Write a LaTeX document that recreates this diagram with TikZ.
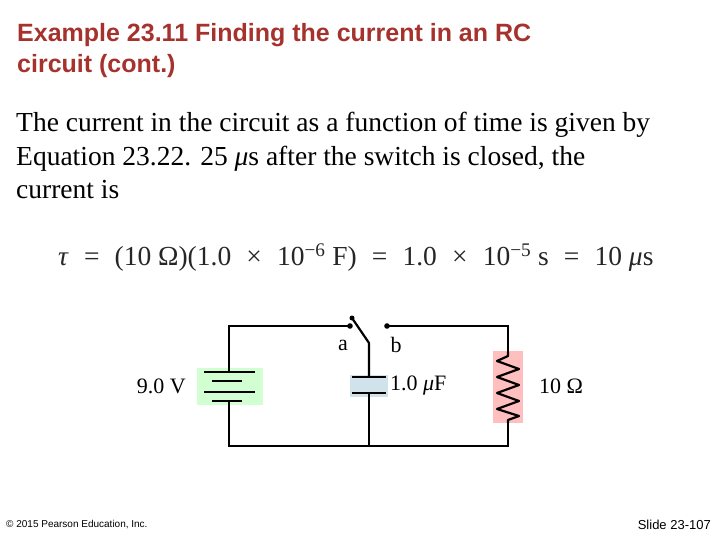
\documentclass[tikz,border=0pt]{standalone}
\usepackage{fontspec}
\setmainfont{Liberation Serif}
\newfontfamily\arial{Liberation Sans}
\newcommand\qs{\hspace{0.55em}}
\begin{document}
\begin{tikzpicture}[x=1pt,y=-1pt,
  wire/.style={line width=2.2pt},
  txt/.style={inner sep=0pt,anchor=west,font=\fontsize{22}{24}\selectfont}]
\definecolor{titlered}{RGB}{165,50,45}
\useasboundingbox (0,0) rectangle (720,540);
\node[inner sep=0pt,anchor=north west,align=left,text=titlered,font=\arial\bfseries\fontsize{25}{31}\selectfont] (title) at (17,23) {Example 23.11 Finding the current in an RC\\circuit (cont.)};
\node[inner sep=0pt,anchor=north west,align=left,font=\fontsize{27.5}{33.5}\selectfont] (body) at (16,112) {The current in the circuit as a function of time is given by\\Equation 23.22. 25 \textit{μ}s after the switch is closed, the\\current is};
\node[inner sep=0pt,anchor=west,font=\fontsize{27.5}{30}\selectfont,text=black!85] (eq) at (58,258) {\textit{τ}\qs=\qs(10 Ω)(1.0\qs×\qs10\textsuperscript{−6} F)\qs=\qs1.0\qs×\qs10\textsuperscript{−5} s\qs=\qs10 \textit{μ}s};
% component boxes
\fill[fill=green!18] (197,368) rectangle (263,405);
\fill[fill=cyan!15!teal!20] (350,375) rectangle (388,397);
\fill[fill=red!25] (493,351) rectangle (523,423);
% wires
\coordinate (tl) at (229,326); \coordinate (bl) at (229,446);
\coordinate (br) at (508,446); \coordinate (tr) at (508,326);
\coordinate (a) at (350,326); \coordinate (b) at (387,326);
\coordinate (pivot) at (369,343); \coordinate (tip) at (352,318);
\coordinate (bm) at (369,446);
\draw[wire] (229,372) -- (tl) -- (a);
\draw[wire] (229,401) -- (bl) -- (br) -- (508,420);
\draw[wire] (b) -- (tr) -- (508,352);
\draw[wire] (tip) -- (pivot) -- (369,377);
\draw[wire] (369,393) -- (bm);
\fill (a) circle (2.8); \fill (b) circle (2.8); \fill (tip) circle (2.5);
% battery
\draw[line width=2.2pt] (204,372) -- (255,372) (212,381) -- (242,381) (204,392) -- (255,392) (212,401) -- (242,401);
% capacitor
\draw[line width=2.4pt] (352,377) -- (386,377) (352,393) -- (386,393);
% resistor
\draw[wire,line join=round] (508,352) -- (508,356) -- (497,361) -- (519,369) -- (497,377) -- (519,385) -- (497,393) -- (519,401) -- (497,409) -- (519,416) -- (508,420) -- (508,423);
% labels
\node[txt,anchor=center] (la) at (343,345) {a};
\node[txt,anchor=center] (lb) at (396,345) {b};
\node[txt,anchor=east] (lv) at (186,386) {9.0 V};
\node[txt] (lc) at (390,386) {1.0 \textit{μ}F};
\node[txt] (lr) at (539,386) {10 Ω};
\node[inner sep=0pt,anchor=west,font=\arial\fontsize{10}{12}\selectfont] (copy) at (6,525) {\textcopyright{} 2015 Pearson Education, Inc.};
\node[inner sep=0pt,anchor=east,font=\arial\fontsize{13}{15}\selectfont] (slide) at (711,525) {Slide 23-107};
\end{tikzpicture}
\end{document}
